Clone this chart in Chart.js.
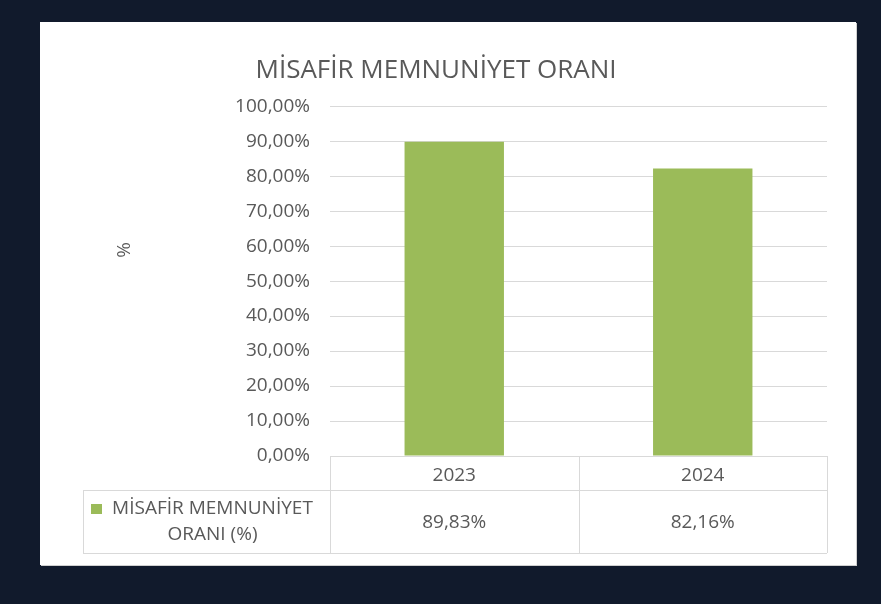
<!DOCTYPE html>
<html lang="tr">
<head>
<meta charset="utf-8">
<title>Misafir Memnuniyet Oranı</title>
<script src="https://cdn.jsdelivr.net/npm/chart.js@4.4.1/dist/chart.umd.min.js"></script>
<style>
  html, body { margin: 0; padding: 0; background: #111a2c; }
  body { width: 881px; height: 604px; position: relative; overflow: hidden; }
  #card { position: absolute; left: 40px; top: 22px; width: 816px; height: 543px; background: #fff; box-shadow: 1px 1px 0 #d0d0d0; }
  #card canvas { display: block; }
</style>
</head>
<body>
<div id="card"><canvas id="myChart" width="816" height="543"></canvas></div>
<script>
// chart data
const chartTitle = 'MİSAFİR MEMNUNİYET ORANI';
const seriesNameLines = ['MİSAFİR MEMNUNİYET', 'ORANI (%)'];
const years = ['2023', '2024'];
const satisfaction = [89.83, 82.16]; // %
const yMin = 0;
const yMax = 100;
const yStep = 10;

const textColor = '#595959';
const barColor = '#9bbb59';
const lineColor = '#d9d9d9';
const fontFamily = '"Open Sans", sans-serif';

const pct = (v) => v.toFixed(2).replace('.', ',') + '%';

// Excel style data table under the plot, drawn from the x scale
const dataTable = {
	id: 'dataTable',
	afterDraw(chart) {
		const { ctx, chartArea: area, scales: { x } } = chart;
		const row1 = 34, row2 = 63, tableLeft = 43;
		const top = area.bottom, mid = top + row1, bottom = mid + row2;
		const colW = (area.right - area.left) / years.length;
		const px = (v) => Math.round(v) + 0.5;

		ctx.save();
		ctx.strokeStyle = lineColor;
		ctx.lineWidth = 1;
		ctx.beginPath();
		// horizontal lines
		ctx.moveTo(area.left, px(top)); ctx.lineTo(area.right, px(top));
		ctx.moveTo(tableLeft, px(mid)); ctx.lineTo(area.right, px(mid));
		ctx.moveTo(tableLeft, px(bottom)); ctx.lineTo(area.right, px(bottom));
		// vertical lines
		ctx.moveTo(px(tableLeft), mid); ctx.lineTo(px(tableLeft), bottom);
		for (let i = 0; i <= years.length; i++) {
			const xx = px(area.left + i * colW);
			ctx.moveTo(xx, top); ctx.lineTo(xx, bottom);
		}
		ctx.stroke();

		// legend key + series name
		ctx.fillStyle = barColor;
		ctx.fillRect(tableLeft + 8, mid + 14, 11, 10);
		ctx.fillStyle = textColor;
		ctx.font = '19px ' + fontFamily;
		ctx.textAlign = 'center';
		ctx.textBaseline = 'middle';
		const nameX = (tableLeft + 20 + area.left) / 2 - 4;
		ctx.fillText(seriesNameLines[0], nameX, mid + 19);
		ctx.fillText(seriesNameLines[1], nameX, mid + 45);

		// values
		satisfaction.forEach((v, i) => {
			ctx.fillText(pct(v), x.getPixelForValue(i), mid + row2 / 2 + 1);
		});

		// y axis title
		ctx.translate(85, 228);
		ctx.rotate(-Math.PI / 2);
		ctx.fillText('%', 0, 0);
		ctx.restore();
	}
};

const myChart = new Chart(document.getElementById('myChart'), {
	type: 'bar',
	data: {
		labels: years,
		datasets: [{
			label: seriesNameLines.join(' '),
			data: satisfaction,
			backgroundColor: barColor,
			borderWidth: 0,
			categoryPercentage: 1,
			barPercentage: 0.4
		}]
	},
	options: {
		responsive: false,
		animation: false,
		devicePixelRatio: 1,
		layout: { padding: { left: 5, right: 29, top: 0, bottom: 12 } },
		plugins: {
			legend: { display: false },
			tooltip: { enabled: false },
			title: {
				display: true,
				text: chartTitle,
				color: textColor,
				font: { family: fontFamily, size: 26, weight: 'normal' },
				padding: { top: 33, bottom: 20 }
			}
		},
		scales: {
			x: {
				grid: { display: false },
				border: { display: false },
				ticks: {
					color: textColor,
					font: { family: fontFamily, size: 19 },
					padding: 0
				},
				afterFit: (scale) => { scale.height = 97; }
			},
			y: {
				min: yMin,
				max: yMax,
				grid: { color: lineColor, drawTicks: false },
				border: { display: false },
				ticks: {
					stepSize: yStep,
					color: textColor,
					font: { family: fontFamily, size: 19 },
					padding: 20,
					callback: (v) => pct(v)
				},
				afterFit: (scale) => { scale.width = 285; }
			}
		}
	},
	plugins: [dataTable]
});
</script>
</body>
</html>
